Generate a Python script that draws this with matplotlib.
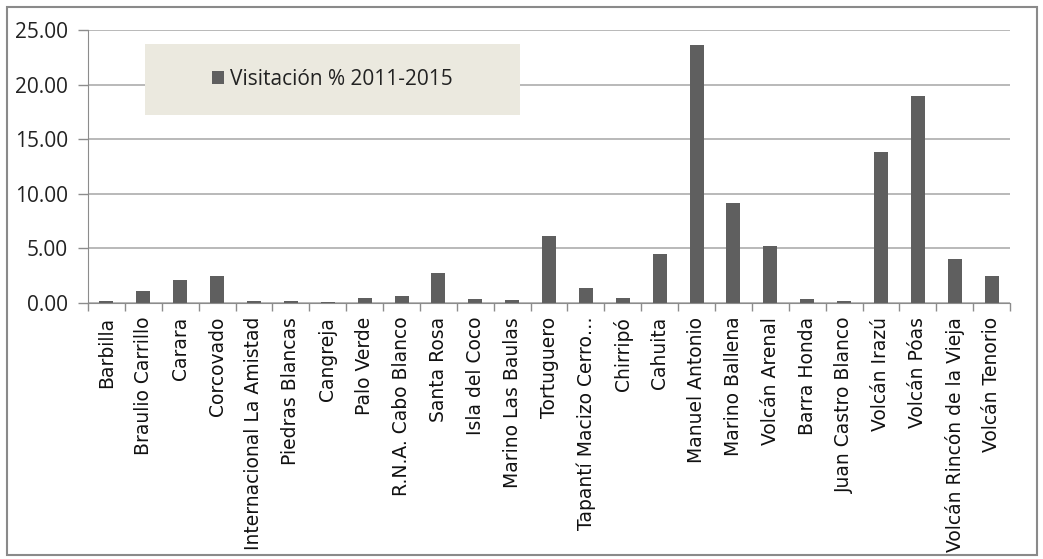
import matplotlib
matplotlib.use("Agg")
import matplotlib.pyplot as plt
from matplotlib.patches import Rectangle

# Data -----

parks = ["Barbilla", "Braulio Carrillo", "Carara", "Corcovado",
         "Internacional La Amistad", "Piedras Blancas", "Cangreja",
         "Palo Verde", "R.N.A. Cabo Blanco", "Santa Rosa", "Isla del Coco",
         "Marino Las Baulas", "Tortuguero", "Tapantí Macizo Cerro…",
         "Chirripó", "Cahuita", "Manuel Antonio", "Marino Ballena",
         "Volcán Arenal", "Barra Honda", "Juan Castro Blanco", "Volcán Irazú",
         "Volcán Póas", "Volcán Rincón de la Vieja", "Volcán Tenorio"]
visits = [0.15, 1.07, 2.08, 2.50, 0.15, 0.15, 0.12, 0.43, 0.67, 2.72, 0.34,
          0.25, 6.10, 1.37, 0.46, 4.49, 23.60, 9.13, 5.19, 0.34, 0.15, 13.83,
          18.96, 4.06, 2.50]
series_name = "Visitación % 2011-2015"
yticks = [0, 5, 10, 15, 20, 25]

plt.rcParams["font.family"] = ["Open Sans", "DejaVu Sans"]

# Plot -----

fig = plt.figure(figsize=(10.43, 5.59), dpi=100)
ax = fig.add_axes([0.0844, 0.458, 0.8840, 0.4883])

x = list(range(len(parks)))
ax.bar(x, visits, width=0.38, color="#5f5f5f", zorder=3, label=series_name)

ax.set_xlim(-0.5, len(parks) - 0.5)
ax.set_ylim(0, 25)
ax.set_yticks(yticks)
ax.set_yticklabels([f"{v:.2f}" for v in yticks], fontsize=15, color="#222222")
ax.yaxis.grid(True, color="#a6a6a6", linewidth=1.1, zorder=0)

# category labels sit between the separator ticks
ax.set_xticks(x)
ax.set_xticklabels(parks, rotation=90, fontsize=13.5, color="#111111",
                   fontfamily="DejaVu Sans")
ax.tick_params(axis="x", length=0, pad=10)
ax.set_xticks([i - 0.5 for i in range(len(parks) + 1)], minor=True)
ax.tick_params(axis="x", which="minor", length=6, color="#8c8c8c", width=1)
ax.tick_params(axis="y", length=7, color="#8c8c8c", width=1, pad=7.5)

for side in ["top", "right"]:
    ax.spines[side].set_visible(False)
ax.spines["left"].set_color("#8c8c8c")
ax.spines["bottom"].set_color("#8c8c8c")
ax.spines["bottom"].set_zorder(4)

# legend panel: shaded box with the legend centred inside it
ax.add_patch(Rectangle((0.0618, 0.6886), 0.4067, 0.2601,
                       transform=ax.transAxes, facecolor="#ebe9df",
                       edgecolor="none", zorder=5))
leg = ax.legend(loc="center", bbox_to_anchor=(0.2651, 0.8187),
                frameon=False, fontsize=15,
                handlelength=0.6, handleheight=0.6, handletextpad=0.3)
leg.set_zorder(6)
for t in leg.get_texts():
    t.set_color("#222222")

# outer chart border
fig.patches.append(Rectangle((0.007, 0.007), 0.987, 0.981,
                             transform=fig.transFigure, fill=False,
                             edgecolor="#8a8a8a", linewidth=1.5))

plt.savefig("out.png", dpi=100)
